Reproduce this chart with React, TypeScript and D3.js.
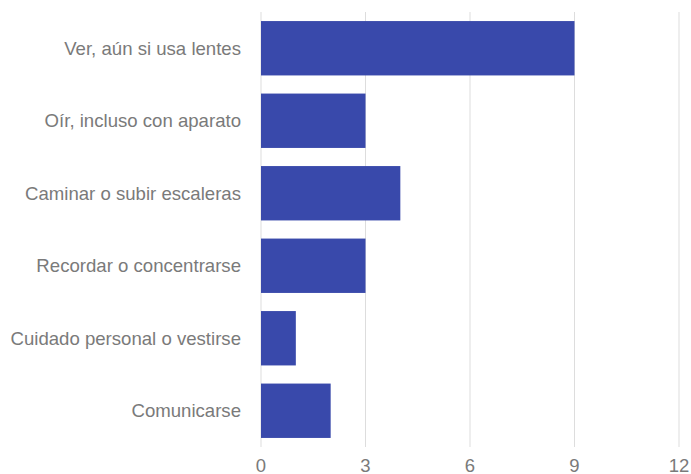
import React from "react";
import * as d3 from "d3";

const categories = [
  "Ver, aún si usa lentes",
  "Oír, incluso con aparato",
  "Caminar o subir escaleras",
  "Recordar o concentrarse",
  "Cuidado personal o vestirse",
  "Comunicarse",
];
const values = [9, 3, 4, 3, 1, 2];
const ticks = [0, 3, 6, 9, 12];

const W = 691;
const H = 474;
const left = 261;
const right = 679;
const top = 12;
const bottom = 447;

export default function App() {
  const x = d3.scaleLinear().domain([0, 12]).range([left, right]);
  const y = d3
    .scaleBand<string>()
    .domain(categories)
    .range([top, bottom])
    .paddingInner(0.25)
    .paddingOuter(0.125);
  const font = "'Liberation Sans', Arial, sans-serif";
  return (
    <svg
      width={W}
      height={H}
      style={{ position: "absolute", left: 0, top: 0, background: "#fff" }}
    >
      {ticks.map((t) => (
        <g key={t}>
          <line x1={x(t)} x2={x(t)} y1={top} y2={bottom} stroke="#dddddd" strokeWidth={1} />
          <text
            x={x(t)}
            y={465}
            textAnchor="middle"
            dominantBaseline="central"
            fill="#7a7a7a"
            fontFamily={font}
            fontSize={18.5}
          >
            {t}
          </text>
        </g>
      ))}
      {categories.map((c, i) => (
        <g key={c}>
          <rect
            x={x(0)}
            y={y(c)}
            width={x(values[i]) - x(0)}
            height={y.bandwidth()}
            fill="#3949ab"
          />
          <text
            x={241}
            y={(y(c) as number) + y.bandwidth() / 2}
            textAnchor="end"
            dominantBaseline="central"
            fill="#7a7a7a"
            fontFamily={font}
            fontSize={18.6}
          >
            {c}
          </text>
        </g>
      ))}
    </svg>
  );
}
